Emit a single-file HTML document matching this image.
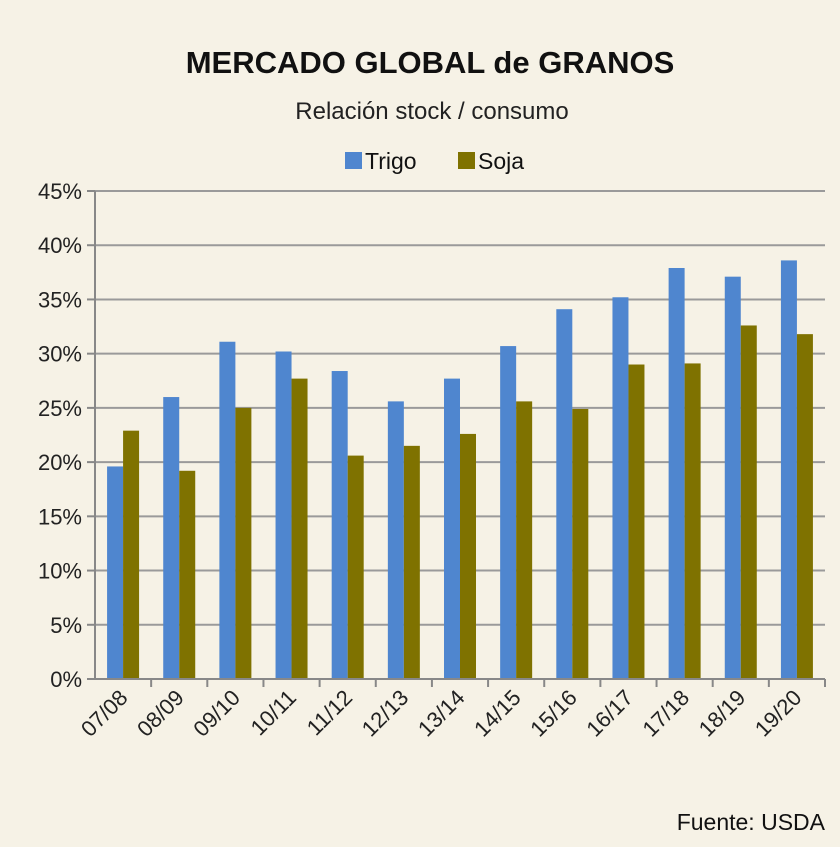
<!DOCTYPE html>
<html><head><meta charset="utf-8"><style>
body{margin:0;background:#f6f2e6;}
svg{display:block;font-family:"Liberation Sans",sans-serif;}
</style></head><body>
<svg id="c" width="840" height="847">
<rect width="840" height="847" fill="#f6f2e6"/>
<text x="430" y="73" text-anchor="middle" font-size="31" font-weight="bold" fill="#111">MERCADO GLOBAL de GRANOS</text>
<text x="432" y="119" text-anchor="middle" font-size="24" fill="#222">Relación stock / consumo</text>
<g>
<g><rect x="345" y="152" width="17" height="17" fill="#4f86cf"/><text x="365" y="169" font-size="23" fill="#111">Trigo</text></g>
<g><rect x="458" y="152" width="17" height="17" fill="#7f7200"/><text x="478" y="169" font-size="23" fill="#111">Soja</text></g>
</g>
<g id="grid"></g><g id="bars"></g><g id="axes"></g>
<text x="825" y="830" text-anchor="end" font-size="23" fill="#111">Fuente:  USDA</text>
</svg>
<script>
const categories=["07/08","08/09","09/10","10/11","11/12","12/13","13/14","14/15","15/16","16/17","17/18","18/19","19/20"];
const trigo=[19.6,26.0,31.1,30.2,28.4,25.6,27.7,30.7,34.1,35.2,37.9,37.1,38.6];
const soja=[22.9,19.2,25.0,27.7,20.6,21.5,22.6,25.6,24.9,29.0,29.1,32.6,31.8];
const ticks=[0,5,10,15,20,25,30,35,40,45];
const NS="http://www.w3.org/2000/svg";
const x0=95,x1=825,y0=679,y1=191,vmax=45;
const bw=(x1-x0)/categories.length;
const y=v=>y0-(v/vmax)*(y0-y1);
function mk(t,a,p){const e=document.createElementNS(NS,t);for(const k in a)e.setAttribute(k,a[k]);p.appendChild(e);return e;}
const grid=document.getElementById('grid'),bars=document.getElementById('bars'),axes=document.getElementById('axes');
ticks.forEach(t=>{
 if(t>0){const l=mk('line',{x1:x0,x2:x1,y1:y(t),y2:y(t),stroke:'#9a9a9a','stroke-width':2},grid);
 
 }
 const tk=mk('line',{x1:x0-8,x2:x0,y1:y(t),y2:y(t),stroke:'#888','stroke-width':2},axes);
 
 
 const tx=mk('text',{x:x0-13,y:y(t)+8,'text-anchor':'end','font-size':22,fill:'#222'},axes);
 tx.textContent=t+'%';
 
 
});
const ax=mk('line',{x1:x0,x2:x0,y1:y1,y2:y0,stroke:'#888','stroke-width':2},axes);


const xa=mk('line',{x1:x0,x2:x1,y1:y0,y2:y0,stroke:'#888','stroke-width':2},axes);


categories.forEach((c,i)=>{
 const cx=x0+bw*(i+0.5);const w=16;
 const b1=mk('rect',{x:cx-w,y:y(trigo[i]),width:w,height:y0-y(trigo[i]),fill:'#4f86cf'},bars);
 
 
 const b2=mk('rect',{x:cx,y:y(soja[i]),width:w,height:y0-y(soja[i]),fill:'#7f7200'},bars);
 
 
 const tk=mk('line',{x1:x0+bw*(i+1),x2:x0+bw*(i+1),y1:y0,y2:y0+8,stroke:'#888','stroke-width':2},axes);
 
 
 const tx=mk('text',{x:cx+6,y:y0+20,'text-anchor':'end','font-size':22,fill:'#222',transform:`rotate(-45 ${cx+6} ${y0+20})`},axes);
 tx.textContent=c;
 
 
});
</script>
</body></html>
